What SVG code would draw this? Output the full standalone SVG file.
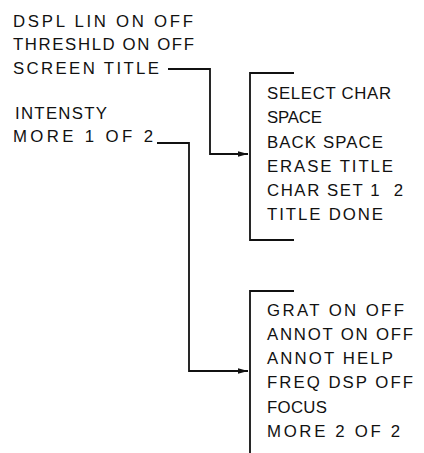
<svg xmlns="http://www.w3.org/2000/svg" width="424" height="453" viewBox="0 0 424 453">
  <defs>
    <style>
      text { font-family: "Liberation Sans", Arial, sans-serif; font-size: 16.8px; fill: #111; }
      .ln { fill: none; stroke: #111; stroke-width: 1.8; }
    </style>
    <marker id="arr" markerWidth="11" markerHeight="8" refX="10" refY="4" orient="auto" markerUnits="userSpaceOnUse">
      <path d="M0,1.2 L10,4 L0,6.8 Z" fill="#111"/>
    </marker>
  </defs>
  <rect width="424" height="453" fill="#fff"/>

  <g id="menu-display">
    <text x="13" y="27" textLength="180" lengthAdjust="spacing">DSPL LIN ON OFF</text>
    <text x="13" y="50" textLength="181" lengthAdjust="spacing">THRESHLD ON OFF</text>
    <text x="13" y="74" textLength="146" lengthAdjust="spacing">SCREEN TITLE</text>
    <text x="15" y="119" textLength="92" lengthAdjust="spacing">INTENSTY</text>
    <text x="13" y="142" textLength="140" lengthAdjust="spacing">MORE 1 OF 2</text>
  </g>

  <g id="menu-title">
    <path class="ln" d="M294,73 H250 V240 H294"/>
    <text x="267" y="99" textLength="124" lengthAdjust="spacing">SELECT CHAR</text>
    <text x="267" y="123" textLength="55" lengthAdjust="spacing">SPACE</text>
    <text x="267" y="148" textLength="116" lengthAdjust="spacing">BACK SPACE</text>
    <text x="267" y="172" textLength="126" lengthAdjust="spacing">ERASE TITLE</text>
    <text x="267" y="196" textLength="136" lengthAdjust="spacing" xml:space="preserve">CHAR SET 1  2</text>
    <text x="267" y="220" textLength="116" lengthAdjust="spacing">TITLE DONE</text>
  </g>

  <g id="menu-more2">
    <path class="ln" d="M294,291 H250 V453"/>
    <text x="267" y="316" textLength="137" lengthAdjust="spacing">GRAT ON OFF</text>
    <text x="267" y="340" textLength="146" lengthAdjust="spacing">ANNOT ON OFF</text>
    <text x="267" y="364" textLength="126" lengthAdjust="spacing">ANNOT HELP</text>
    <text x="267" y="388" textLength="146" lengthAdjust="spacing">FREQ DSP OFF</text>
    <text x="267" y="413" textLength="60" lengthAdjust="spacing">FOCUS</text>
    <text x="267" y="437" textLength="133" lengthAdjust="spacing">MORE 2 OF 2</text>
  </g>

  <g id="connectors">
    <path class="ln" d="M168,69 H210 V154 H248" marker-end="url(#arr)"/>
    <path class="ln" d="M157,143 H189 V371 H248" marker-end="url(#arr)"/>
  </g>
</svg>
